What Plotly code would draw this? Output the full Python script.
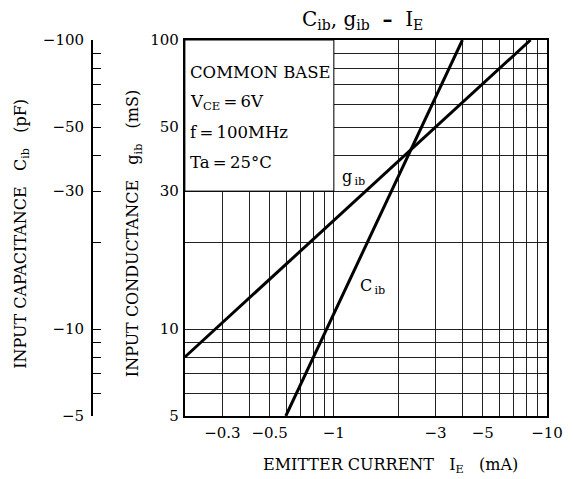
import math
import plotly.graph_objects as go

# ---------------- data (magnitudes; plotted values are negative currents / capacitances) ----
ie_g = [0.2, 2.21, 8.37]          # |I_E| (mA) for g_ib
g_ib = [8.0, 40.5, 100.0]         # g_ib (mS)
ie_c = [0.595, 2.21, 4.01]        # |I_E| (mA) for C_ib
c_ib = [5.0, 39.5, 100.0]         # |C_ib| (pF)

x_major = [0.3, 0.5, 1, 3, 5, 10]
x_text = ["−0.3", "−0.5", "−1", "−3", "−5", "−10"]
x_minor = [0.2, 0.4, 0.6, 0.7, 0.8, 0.9, 2, 4, 6, 7, 8, 9]
y_major = [5, 10, 30, 50, 100]
g_text = ["5", "10", "30", "50", "100"]
c_text = ["−5", "−10", "−30", "−50", "−100"]
y_minor = [6, 7, 8, 9, 20, 40, 60, 70, 80, 90]

FONT = "DejaVu Serif"
W, H = 573, 479
ML, MR, MT, MB = 10, 18, 40, 63
PW, PH = W - ML - MR, H - MT - MB


def px(x):
    return (x - ML) / PW


def py(y):
    return (H - MB - y) / PH


fig = go.Figure()
fig.add_trace(go.Scatter(x=ie_g, y=g_ib, mode="lines", line=dict(color="black", width=3),
                         showlegend=False, hoverinfo="skip"))
fig.add_trace(go.Scatter(x=ie_c, y=c_ib, mode="lines", line=dict(color="black", width=3),
                         showlegend=False, hoverinfo="skip"))
# invisible trace to activate the C_ib axis
fig.add_trace(go.Scatter(x=[1], y=[10], yaxis="y2", mode="markers", marker=dict(opacity=0),
                         showlegend=False, hoverinfo="skip"))

GRID = "#222"
x0 = px(187.5)
fig.update_layout(
    width=W, height=H,
    margin=dict(l=ML, r=MR, t=MT, b=MB),
    paper_bgcolor="white", plot_bgcolor="white",
    font=dict(family=FONT, color="black", size=15),
    xaxis=dict(type="log", range=[math.log10(0.2), 1], domain=[x0, 1],
               tickmode="array", tickvals=x_major, ticktext=x_text, ticks="",
               showgrid=True, gridcolor=GRID, gridwidth=1,
               minor=dict(tickmode="array", tickvals=x_minor, showgrid=True,
                          gridcolor=GRID, gridwidth=1, ticks=""),
               showline=True, mirror=True, linecolor="black", linewidth=2,
               zeroline=False, tickfont=dict(size=15, family=FONT), ticklabelstandoff=2),
    yaxis=dict(type="log", range=[math.log10(5), 2],
               tickmode="array", tickvals=y_major, ticktext=g_text, ticks="",
               showgrid=True, gridcolor=GRID, gridwidth=1,
               minor=dict(tickmode="array", tickvals=y_minor, showgrid=True,
                          gridcolor=GRID, gridwidth=1, ticks=""),
               showline=True, mirror=True, linecolor="black", linewidth=2,
               zeroline=False, tickfont=dict(size=15, family=FONT), ticklabelstandoff=1),
    yaxis2=dict(type="log", range=[math.log10(5), 2], overlaying="y", anchor="free",
                position=px(93), side="left",
                tickmode="array", tickvals=y_major, ticktext=c_text,
                ticks="inside", ticklen=8, tickwidth=1, tickcolor="black",
                minor=dict(tickmode="array", tickvals=y_minor, ticks="inside", ticklen=8,
                           tickwidth=1, tickcolor="black", showgrid=False),
                showgrid=False, showline=True, linecolor="black", linewidth=1.5,
                zeroline=False, tickfont=dict(size=15, family=FONT), ticklabelstandoff=4),
)

# white info box in upper-left region of the grid
fig.add_shape(type="rect", xref="x", yref="y", x0=0.2, x1=1, y0=30, y1=100,
              fillcolor="white", line=dict(color="black", width=1), layer="between")

ann = []
# title
ann.append(dict(text="C<sub>ib</sub>, g<sub>ib</sub>\u00a0\u00a0<b>\u2013</b>\u00a0\u00a0I<sub>E</sub>",
                x=px(368), y=py(20), xref="paper", yref="paper",
                xanchor="center", yanchor="middle", showarrow=False,
                font=dict(size=20, family=FONT)))
# box text
box_lines = ["COMMON\u00a0BASE", "V<sub>CE</sub>\u2009=\u20096V", "f\u2009=\u2009100MHz", "Ta\u2009=\u200925°C"]
box_y = [72, 103, 132, 162]
for t, yy in zip(box_lines, box_y):
    ann.append(dict(text=t, x=px(191), y=py(yy), xref="paper", yref="paper",
                    xanchor="left", yanchor="middle", showarrow=False,
                    font=dict(size=16.5, family=FONT)))
# curve labels
ann.append(dict(text="g<sub>\u2009ib</sub>", x=math.log10(1.24), y=math.log10(33.5), xref="x", yref="y",
                xanchor="center", yanchor="middle", showarrow=False, font=dict(size=16, family=FONT)))
ann.append(dict(text="C<sub>\u2009ib</sub>", x=math.log10(1.52), y=math.log10(14.0), xref="x", yref="y",
                xanchor="center", yanchor="middle", showarrow=False, font=dict(size=16, family=FONT)))
# axis titles
ann.append(dict(text="EMITTER\u00a0CURRENT\u00a0\u00a0\u00a0I<sub>E</sub>\u00a0\u00a0\u00a0(mA)",
                x=px(396), y=py(466), xref="paper", yref="paper",
                xanchor="center", yanchor="middle", showarrow=False, font=dict(size=16, family=FONT)))
ann.append(dict(text="INPUT\u00a0CONDUCTANCE\u00a0\u00a0\u00a0g<sub>ib</sub>\u00a0\u00a0\u00a0(mS)",
                x=px(135), y=py(234), xref="paper", yref="paper", textangle=-90,
                xanchor="center", yanchor="middle", showarrow=False, font=dict(size=16, family=FONT)))
ann.append(dict(text="INPUT\u00a0CAPACITANCE\u00a0\u00a0\u00a0C<sub>ib</sub>\u00a0\u00a0\u00a0(pF)",
                x=px(21), y=py(234), xref="paper", yref="paper", textangle=-90,
                xanchor="center", yanchor="middle", showarrow=False, font=dict(size=16, family=FONT)))
fig.update_layout(annotations=ann)

fig.write_html("out.html")
